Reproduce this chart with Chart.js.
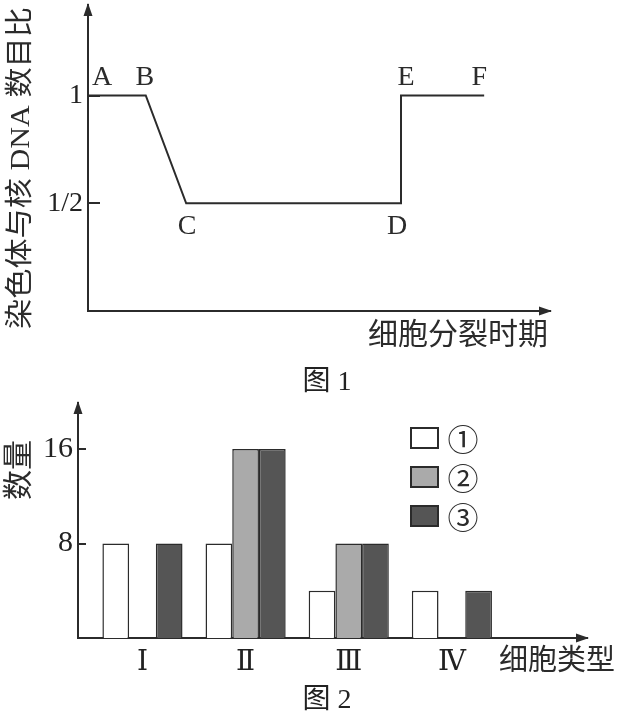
<!DOCTYPE html>
<html>
<head>
<meta charset="utf-8">
<script src="https://cdn.jsdelivr.net/npm/chart.js@4.4.1/dist/chart.umd.min.js"></script>
<style>
  html, body { margin: 0; padding: 0; background: #fff; }
  #wrap { position: relative; width: 623px; height: 717px; overflow: hidden; }
  canvas { position: absolute; left: 0; }
  .cap {
    position: absolute; left: 277px; width: 100px; text-align: center;
    font: 28px "Liberation Serif", "Noto Sans CJK SC", serif; color: #222;
    line-height: 30px;
  }
</style>
</head>
<body>
<div id="wrap">
  <canvas id="fig1" width="623" height="390" style="top:0"></canvas>
  <canvas id="fig2" width="623" height="327" style="top:390px"></canvas>
  <div class="cap" style="top:366px">图 1</div>
  <div class="cap" style="top:684px">图 2</div>
</div>
<script>
// ---------------- 图1 data ----------------
const stageNames = ['A', 'B', 'C', 'D', 'E', 'F'];
const stageTimes = [0, 1.0, 1.7, 5.42, 5.42, 6.86];
const ratioValues = [1, 1, 0.5, 0.5, 1, 1];
const ratioTicks = [0.5, 1];
const ratioTickLabels = ['1/2', '1'];
const fig1YTitle = '染色体与核 DNA 数目比';
const fig1XTitle = '细胞分裂时期';

// ---------------- 图2 data ----------------
const cellTypes = ['Ⅰ', 'Ⅱ', 'Ⅲ', 'Ⅳ'];
const countTicks = [8, 16];
const series1 = [8, 8, 4, 4];
const series2 = [null, 16, 8, null];
const series3 = [8, 16, 8, 4];
const seriesNames = ['①', '②', '③'];
const fig2YTitle = '数量';
const fig2XTitle = '细胞类型';

const INK = '#2b2b2b';
const SERIF = '"Liberation Serif", "DejaVu Serif", "Noto Sans CJK SC", serif';
const labelShiftX = [14, -1, 1, -4, 5, -5];

// fixed axis box, no extra label padding
function fixBox(size) {
  return s => {
    if (s.isHorizontal()) s.height = size; else s.width = size;
    s.paddingTop = 0; s.paddingBottom = 0; s.paddingLeft = 0; s.paddingRight = 0;
  };
}

// arrows, titles, point letters, legend
const decor = {
  id: 'decor',
  afterDraw(chart, args, opts) {
    const { ctx, chartArea: a } = chart;
    ctx.save();
    ctx.fillStyle = INK;
    // arrow heads
    ctx.beginPath();
    ctx.moveTo(a.left, a.top - 2);
    ctx.lineTo(a.left - 4.5, a.top + 11);
    ctx.lineTo(a.left + 4.5, a.top + 11);
    ctx.closePath();
    ctx.fill();
    ctx.beginPath();
    ctx.moveTo(a.right + 2, a.bottom);
    ctx.lineTo(a.right - 11, a.bottom - 4.5);
    ctx.lineTo(a.right - 11, a.bottom + 4.5);
    ctx.closePath();
    ctx.fill();

    // y title (rotated, fitted to length)
    const yt = opts.yTitle;
    ctx.save();
    ctx.font = yt.size + 'px ' + SERIF;
    ctx.translate(yt.x, yt.y);
    ctx.rotate(-Math.PI / 2);
    const w = ctx.measureText(yt.text).width;
    if (yt.len) ctx.scale(yt.len / w, 1);
    ctx.textAlign = 'center';
    ctx.textBaseline = 'middle';
    ctx.fillText(yt.text, 0, 0);
    ctx.restore();

    // x title
    const xt = opts.xTitle;
    ctx.font = xt.size + 'px ' + SERIF;
    ctx.textAlign = 'right';
    ctx.textBaseline = 'middle';
    ctx.fillText(xt.text, a.right + xt.dx, a.bottom + xt.dy);

    // letters on the line
    if (opts.pointLabels) {
      const meta = chart.getDatasetMeta(0);
      ctx.font = '28px ' + SERIF;
      ctx.textAlign = 'center';
      meta.data.forEach((pt, i) => {
        const up = ratioValues[i] === 1;
        ctx.fillText(stageNames[i], pt.x + labelShiftX[i], pt.y + (up ? -18 : 23));
      });
    }

    // legend
    if (opts.legend) {
      const lg = opts.legend;
      chart.data.datasets.forEach((ds, i) => {
        const y = lg.y + i * 39;
        ctx.fillStyle = ds.backgroundColor;
        ctx.fillRect(lg.x, y, 27, 20);
        ctx.strokeStyle = INK;
        ctx.lineWidth = 2;
        ctx.strokeRect(lg.x, y, 27, 20);
        ctx.fillStyle = INK;
        ctx.font = '31px "Noto Sans CJK SC", ' + SERIF;
        ctx.textAlign = 'center';
        ctx.textBaseline = 'middle';
        ctx.fillText(ds.label, lg.x + 52, y + 11);
      });
    }
    ctx.restore();
  }
};

// ---------------- 图1 ----------------
new Chart(document.getElementById('fig1'), {
  type: 'line',
  data: {
    datasets: [{
      data: stageTimes.map((t, i) => ({ x: t, y: ratioValues[i] })),
      borderColor: INK,
      borderWidth: 2,
      pointRadius: 0,
      tension: 0,
      clip: false,
    }]
  },
  options: {
    responsive: false,
    animation: false,
    layout: { padding: { left: 0, right: 73, top: 5, bottom: 0 } },
    plugins: {
      legend: { display: false },
      tooltip: { enabled: false },
      decor: {
        yTitle: { text: fig1YTitle, x: 22, y: 168, size: 28, len: 322 },
        xTitle: { text: fig1XTitle, dx: -2, dy: 25, size: 30 },
        pointLabels: true,
      }
    },
    scales: {
      x: {
        type: 'linear', min: 0, max: 8,
        ticks: { display: false },
        grid: { display: false, drawTicks: false },
        border: { display: true, color: INK, width: 2 },
        afterFit: fixBox(79),
      },
      y: {
        type: 'linear', min: 0, max: 1.42,
        afterBuildTicks(s) { s.ticks = ratioTicks.map(v => ({ value: v })); },
        ticks: {
          padding: 17, color: '#222',
          font: { family: SERIF, size: 28 },
          callback: (v, i) => ratioTickLabels[i],
        },
        grid: { display: true, drawOnChartArea: false, drawTicks: true, tickLength: -12, color: INK, lineWidth: 2 },
        border: { display: true, color: INK, width: 2 },
        afterFit: fixBox(88),
      }
    }
  },
  plugins: [decor]
});

// ---------------- 图2 ----------------
const toPoints = arr => cellTypes.map((_, i) => ({ x: i + 1, y: arr[i] }));

new Chart(document.getElementById('fig2'), {
  type: 'bar',
  data: {
    datasets: [
      { label: seriesNames[0], data: toPoints(series1), backgroundColor: '#ffffff' },
      { label: seriesNames[1], data: toPoints(series2), backgroundColor: '#aaaaaa' },
      { label: seriesNames[2], data: toPoints(series3), backgroundColor: '#555555' },
    ]
  },
  options: {
    responsive: false,
    animation: false,
    layout: { padding: { left: 0, right: 36, top: 13, bottom: 0 } },
    datasets: {
      bar: { borderColor: INK, borderWidth: 1.5, categoryPercentage: 0.777, barPercentage: 1 }
    },
    plugins: {
      legend: { display: false },
      tooltip: { enabled: false },
      decor: {
        yTitle: { text: fig2YTitle, x: 20, y: 80, size: 30 },
        xTitle: { text: fig2XTitle, dx: 28, dy: 24, size: 29 },
        legend: { x: 411, y: 38 },
      }
    },
    scales: {
      x: {
        type: 'linear', min: 0.375, max: 5.31, offset: false,
        afterBuildTicks(s) { s.ticks = cellTypes.map((_, i) => ({ value: i + 1 })); },
        ticks: {
          padding: 8, color: '#222',
          font: { family: SERIF, size: 28 },
          callback: (v, i) => cellTypes[i],
        },
        grid: { display: false, drawTicks: false },
        border: { display: true, color: INK, width: 2 },
        afterFit: fixBox(79),
      },
      y: {
        type: 'linear', min: 0, max: 19.9,
        afterBuildTicks(s) { s.ticks = countTicks.map(v => ({ value: v })); },
        ticks: {
          padding: 13, color: '#222',
          font: { family: SERIF, size: 30 },
          callback: (v, i) => String(countTicks[i]),
        },
        grid: { display: true, drawOnChartArea: false, drawTicks: true, tickLength: -8, color: INK, lineWidth: 2 },
        border: { display: true, color: INK, width: 2 },
        afterFit: fixBox(78),
      }
    }
  },
  plugins: [decor]
});
</script>
</body>
</html>
